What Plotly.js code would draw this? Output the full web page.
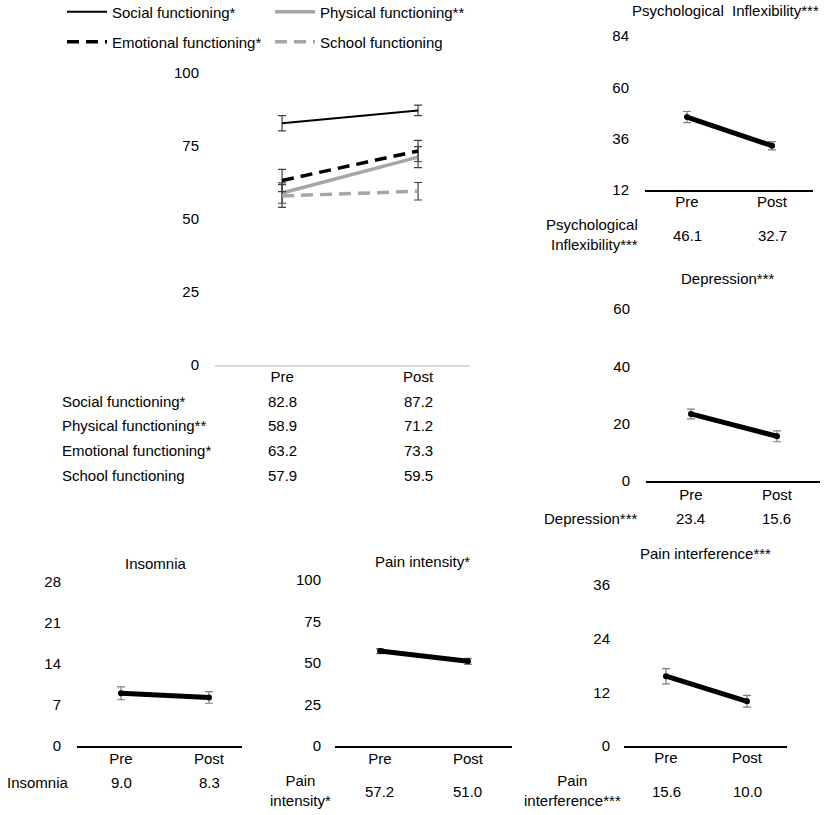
<!DOCTYPE html>
<html><head><meta charset="utf-8">
<script src="https://cdn.plot.ly/plotly-3.0.1.min.js"></script>
<style>html,body{margin:0;padding:0;background:#fff}#chart{width:827px;height:815px}</style>
</head><body><div id="chart"></div>
<script>
// ---------- data ----------
const phases = ['Pre', 'Post'];

const socialFunctioning = [82.8, 87.2];
const socialErr = [2.6, 1.8];
const physicalFunctioning = [58.9, 71.2];
const physicalErr = [3.5, 3.6];
const emotionalFunctioning = [63.2, 73.3];
const emotionalErr = [3.8, 3.6];
const schoolFunctioning = [57.9, 59.5];
const schoolErr = [3.9, 3.0];

const psychInflexibility = [46.1, 32.7];
const psychInflexibilityErr = [2.6, 1.9];
const depression = [23.4, 15.6];
const depressionErr = [1.7, 1.9];
const insomnia = [9.0, 8.3];
const insomniaErr = [1.1, 1.0];
const painIntensity = [57.2, 51.0];
const painIntensityErr = [1.5, 1.8];
const painInterference = [15.6, 10.0];
const painInterferenceErr = [1.7, 1.3];

const mainTicks = [0, 25, 50, 75, 100];
const psychTicks = [12, 36, 60, 84];
const depressionTicks = [0, 20, 40, 60];
const insomniaTicks = [0, 7, 14, 21, 28];
const painIntensityTicks = [0, 25, 50, 75, 100];
const painInterferenceTicks = [0, 12, 24, 36];

const mainNames = ['Social functioning*', 'Physical functioning**', 'Emotional functioning*', 'School functioning'];

// ---------- helpers ----------
const W = 827, H = 815;
const px = v => v / W;
const py = v => 1 - v / H;
const FONT = 'Liberation Sans, Arial, sans-serif';
const FS = 15;
const xs = [0, 1];

const traces = [];
const mainSeries = [
  {y: socialFunctioning, e: socialErr, color: '#000000', width: 2, dash: 'solid', legend: 'legend'},
  {y: physicalFunctioning, e: physicalErr, color: '#a6a6a6', width: 3.5, dash: 'solid', legend: 'legend'},
  {y: emotionalFunctioning, e: emotionalErr, color: '#000000', width: 3.5, dash: '12px,7px', legend: 'legend2'},
  {y: schoolFunctioning, e: schoolErr, color: '#a6a6a6', width: 3.5, dash: '12px,7px', legend: 'legend2'}
];
mainSeries.forEach((s, i) => {
  traces.push({
    x: xs, y: s.y, name: mainNames[i], type: 'scatter', mode: 'lines',
    line: {color: s.color, width: s.width, dash: s.dash},
    error_y: {type: 'data', array: s.e, visible: true, color: '#404040', thickness: 1.2, width: 4},
    xaxis: 'x', yaxis: 'y', showlegend: true, legend: s.legend
  });
});

const small = [
  {y: psychInflexibility, e: psychInflexibilityErr, ax: '2'},
  {y: depression, e: depressionErr, ax: '3'},
  {y: insomnia, e: insomniaErr, ax: '4'},
  {y: painIntensity, e: painIntensityErr, ax: '5'},
  {y: painInterference, e: painInterferenceErr, ax: '6'}
];
small.forEach(s => {
  traces.push({
    x: xs, y: s.y, type: 'scatter', mode: 'lines+markers', showlegend: false,
    line: {color: '#000000', width: 5},
    marker: {color: '#000000', size: 6},
    error_y: {type: 'data', array: s.e, visible: true, color: '#7f7f7f', thickness: 1.2, width: 4},
    xaxis: 'x' + s.ax, yaxis: 'y' + s.ax
  });
});

function xax(domPx, range, lineColor, anchor, standoff) {
  return {
    domain: [px(domPx[0]), px(domPx[1])], range: range, anchor: anchor,
    tickvals: xs, ticktext: phases, showgrid: false, zeroline: false,
    showline: true, linecolor: lineColor, linewidth: 1.5, ticks: '',
    ticklabelstandoff: standoff,
    tickfont: {family: FONT, size: FS, color: '#000'}, fixedrange: true
  };
}
function yax(domPx, range, ticks, anchor, standoff) {
  return {
    domain: [py(domPx[1]), py(domPx[0])], range: range, anchor: anchor,
    tickvals: ticks, ticktext: ticks.map(String), showgrid: false, zeroline: false,
    showline: false, ticks: '', ticklabelstandoff: standoff,
    tickfont: {family: FONT, size: FS, color: '#000'}, fixedrange: true
  };
}
function legendAt(yPix) {
  return {
    orientation: 'h', x: px(62), y: py(yPix), xanchor: 'left', yanchor: 'middle',
    itemwidth: 40, entrywidth: 153, font: {family: FONT, size: FS, color: '#000'},
    bgcolor: 'rgba(0,0,0,0)', traceorder: 'normal'
  };
}

const layout = {
  width: W, height: H,
  margin: {l: 0, r: 0, t: 0, b: 0, autoexpand: false},
  paper_bgcolor: '#fff', plot_bgcolor: 'rgba(0,0,0,0)',
  font: {family: FONT, size: FS, color: '#000'},
  showlegend: true,
  legend: legendAt(12),
  legend2: legendAt(42),
  xaxis: xax([215, 470], [-0.493, 1.382], '#d9d9d9', 'y', -3),
  yaxis: yax([73, 365], [0, 100], mainTicks, 'x', 15),
  xaxis2: xax([645, 813], [-0.494, 1.482], '#000', 'y2', -3),
  yaxis2: yax([36, 190], [12, 84], psychTicks, 'x2', 15),
  xaxis3: xax([646, 820], [-0.523, 1.5], '#000', 'y3', -1),
  yaxis3: yax([309, 481], [0, 60], depressionTicks, 'x3', 15),
  xaxis4: xax([77, 242], [-0.5, 1.375], '#000', 'y4', -2),
  yaxis4: yax([582, 746], [0, 28], insomniaTicks, 'x4', 15),
  xaxis5: xax([335, 512], [-0.511, 1.5], '#000', 'y5', -2),
  yaxis5: yax([580, 746], [0, 100], painIntensityTicks, 'x5', 13),
  xaxis6: xax([624, 787], [-0.519, 1.494], '#000', 'y6', -3),
  yaxis6: yax([585, 746], [0, 36], painInterferenceTicks, 'x6', 13),
  annotations: []
};

const ann = layout.annotations;
function text(t, xPix, yPix, xanchor, align) {
  ann.push({text: t, x: px(xPix), y: py(yPix), xref: 'paper', yref: 'paper',
    xanchor: xanchor, yanchor: 'middle', align: align || 'center', showarrow: false,
    font: {family: FONT, size: FS, color: '#000'}});
}
function values(arr, axis, yPix) {
  arr.forEach((v, i) => ann.push({text: v.toFixed(1), x: xs[i], y: py(yPix), xref: 'x' + axis, yref: 'paper',
    xanchor: 'center', yanchor: 'middle', showarrow: false,
    font: {family: FONT, size: FS, color: '#000'}}));
}

// panel titles
text('Psychological&nbsp;&nbsp;Inflexibility***', 725, 10, 'center');
text('Depression***', 728, 278, 'center');
text('Insomnia', 156, 563, 'center');
text('Pain intensity*', 423, 561, 'center');
text('Pain interference***', 705, 553, 'center');

// main table
const mainVals = [socialFunctioning, physicalFunctioning, emotionalFunctioning, schoolFunctioning];
const rowY = [401, 425, 450, 475];
mainNames.forEach((n, i) => {
  text(n, 60, rowY[i], 'left', 'left');
  values(mainVals[i], '', rowY[i]);
});

// small tables
text('Psychological<br>Inflexibility***', 640, 234, 'right', 'right');
values(psychInflexibility, '2', 235);
text('Depression***', 640, 518, 'right', 'right');
values(depression, '3', 518);
text('Insomnia', 5, 782, 'left', 'left');
values(insomnia, '4', 782);
text('Pain<br>intensity*', 300, 790, 'center');
values(painIntensity, '5', 791);
text('Pain<br>interference***', 572, 790, 'center');
values(painInterference, '6', 791);

Plotly.newPlot('chart', traces, layout, {staticPlot: true, displayModeBar: false});
</script>
</body></html>
